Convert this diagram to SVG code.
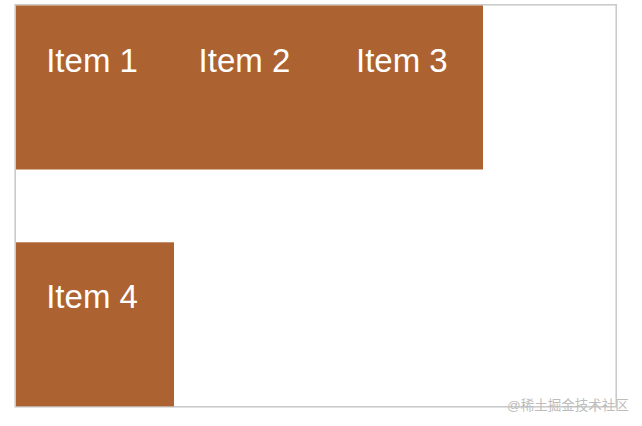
<svg xmlns="http://www.w3.org/2000/svg" width="642" height="426" viewBox="0 0 642 426">
  <style>
    .box { fill: #ad6331; }
    .lbl { font-family: "Liberation Sans", Arial, sans-serif; font-size: 33px; fill: #ffffff; }
    .frame { fill: none; stroke: #c8c8c8; stroke-width: 1.5; }
    .wm { font-family: "Liberation Sans", "Noto Sans CJK SC", sans-serif; font-size: 13.5px; fill: #bdbdbd; }
  </style>
  <rect width="642" height="426" fill="#ffffff"/>
  <rect class="frame" x="15.2" y="4.8" width="601" height="402"/>
  <g id="row1">
    <rect class="box" x="16" y="5.5" width="467" height="164"/>
  </g>
  <g id="item1"><text class="lbl" x="46.2" y="72.3">Item 1</text></g>
  <g id="item2"><text class="lbl" x="198.6" y="72.3">Item 2</text></g>
  <g id="item3"><text class="lbl" x="356" y="72.3">Item 3</text></g>
  <g id="item4">
    <rect class="box" x="16" y="242.3" width="158" height="164"/>
    <text class="lbl" x="46.2" y="308.3">Item 4</text>
  </g>
  <g id="connectors"/>
  <text class="wm" x="507" y="410">@稀土掘金技术社区</text>
</svg>
